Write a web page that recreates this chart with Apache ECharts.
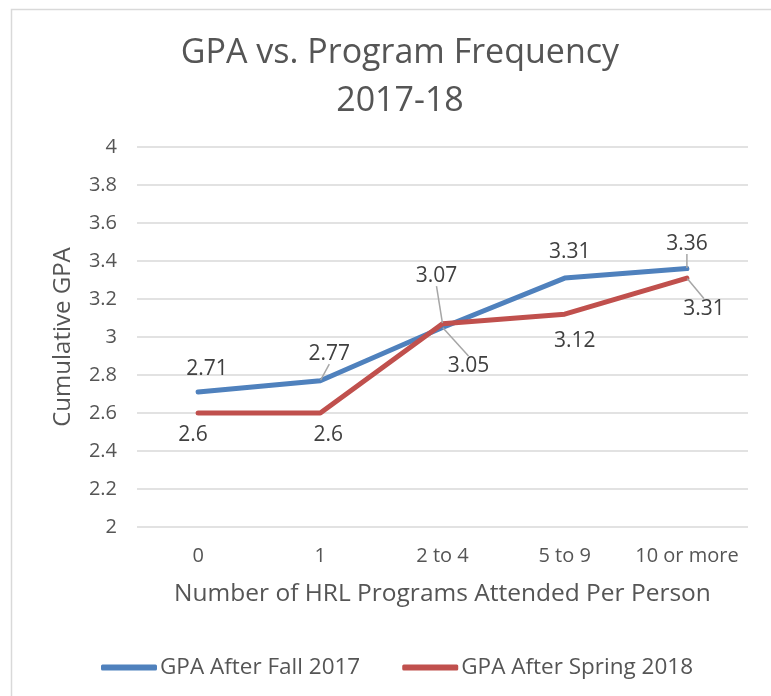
<!DOCTYPE html>
<html>
<head>
<meta charset="utf-8">
<script src="https://cdn.jsdelivr.net/npm/echarts@6/dist/echarts.min.js"></script>
<style>
  html, body { margin: 0; padding: 0; background: #fff; }
  #chart { width: 771px; height: 696px; }
</style>
</head>
<body>
<div id="chart"></div>
<script>
const categories = ['0', '1', '2 to 4', '5 to 9', '10 or more'];
const fallGpa = [2.71, 2.77, 3.05, 3.31, 3.36];
const springGpa = [2.6, 2.6, 3.07, 3.12, 3.31];
const seriesNames = ['GPA After Fall 2017', 'GPA After Spring 2018'];
const COLORS = ['#4f81bd', '#c0504d'];
const FONT = '"Open Sans", Lato, sans-serif';
const TEXT = '#555555';

// label nudges (dx, dy) per point, like the hand-dragged labels in the original
const labelShift = [
  [[9, 0], [9, -4], [26, 62], [5, -3], [0, -2]],
  [[-5, -1], [8, -1], [-6, -71], [10, 4], [17, 8]],
];
// which points get a leader line
const withLeader = [[1, 2, 4], [2, 4]];

const chart = echarts.init(document.getElementById('chart'), null, { renderer: 'canvas' });

const makeData = (values, s) => values.map((v, i) => (
  withLeader[s].includes(i) ? { value: v, labelLine: { show: true } } : v
));

const makeSeries = (values, s) => ({
  name: seriesNames[s],
  type: 'line',
  data: makeData(values, s),
  symbol: 'circle',
  symbolSize: 1,
  showSymbol: true,
  color: COLORS[s],
  lineStyle: { color: COLORS[s], width: 5, cap: 'round', join: 'round' },
  itemStyle: { color: COLORS[s] },
  label: {
    show: true,
    position: s === 0 ? 'top' : 'bottom',
    distance: 12,
    color: '#404040',
    fontSize: 21,
    fontFamily: FONT,
  },
  labelLine: {
    show: false,
    lineStyle: { color: '#a6a6a6', width: 1.5 },
  },
  labelLayout: (p) => {
    const sh = labelShift[s][p.dataIndex];
    return { dx: sh[0], dy: sh[1] };
  },
  emphasis: { disabled: true },
  animation: false,
});

chart.setOption({
  backgroundColor: '#fff',
  animation: false,
  graphic: [{
    type: 'rect',
    shape: { x: 11.5, y: 9.5, width: 900, height: 900 },
    style: { fill: 'none', stroke: '#d9d9d9', lineWidth: 1.5 },
    silent: true,
  }],
  title: {
    text: 'GPA vs. Program Frequency\n2017-18',
    left: 395,
    top: 24,
    textAlign: 'center',
    textStyle: {
      color: TEXT,
      fontSize: 34,
      fontWeight: 'normal',
      fontFamily: FONT,
      lineHeight: 48,
    },
  },
  legend: {
    left: 96,
    top: 651,
    itemWidth: 56,
    itemHeight: 6,
    itemGap: 42,
    icon: 'roundRect',
    data: seriesNames,
    textStyle: { color: TEXT, fontSize: 22.5, fontFamily: FONT, padding: [0, 0, 0, -2] },
  },
  grid: { left: 137, right: 23, top: 147, bottom: 169 },
  xAxis: {
    type: 'category',
    data: categories,
    boundaryGap: true,
    axisLine: { show: false },
    axisTick: { show: false },
    axisLabel: { color: TEXT, fontSize: 20, fontFamily: FONT, margin: 19, interval: 0 },
    name: 'Number of HRL Programs Attended Per Person',
    nameLocation: 'middle',
    nameGap: 55,
    nameTextStyle: { color: TEXT, fontSize: 24.5, fontFamily: FONT },
  },
  yAxis: {
    type: 'value',
    min: 2,
    max: 4,
    interval: 0.2,
    axisLine: { show: false },
    axisTick: { show: false },
    axisLabel: {
      color: TEXT,
      fontSize: 20,
      fontFamily: FONT,
      margin: 20,
      formatter: (v) => String(Math.round(v * 10) / 10),
    },
    splitLine: { lineStyle: { color: '#d9d9d9', width: 1.5 } },
    name: 'Cumulative GPA',
    nameLocation: 'middle',
    nameGap: 62,
    nameTextStyle: { color: TEXT, fontSize: 24, fontFamily: FONT },
  },
  series: [makeSeries(fallGpa, 0), makeSeries(springGpa, 1)],
});
</script>
</body>
</html>
